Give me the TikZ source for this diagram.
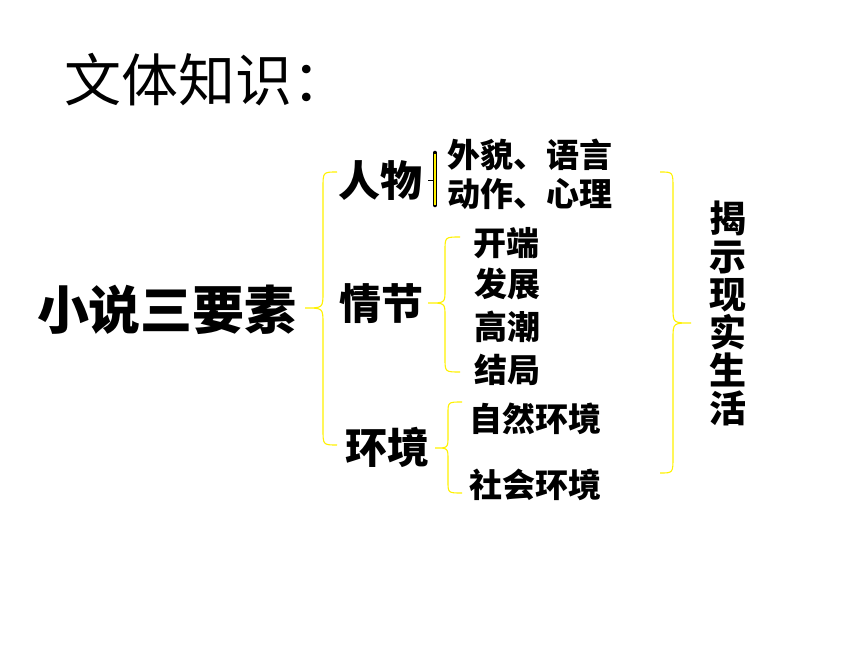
\documentclass[tikz,border=0pt]{standalone}
\usepackage{fontspec}
\newfontfamily\cjk{Noto Sans CJK SC}
\tikzset{
  lbl/.style={inner sep=0pt, anchor=center},
  big/.style={lbl, font=\cjk\bfseries\fontsize{52}{52}\selectfont},
  mid/.style={lbl, font=\cjk\bfseries\fontsize{42}{42}\selectfont},
  sml/.style={lbl, font=\cjk\bfseries\fontsize{33}{33}\selectfont},
  brc/.style={draw=yellow, line width=1.1pt},
}
\begin{document}
\begin{tikzpicture}[x=1pt,y=-1pt]
\path[fill=white] (0,0) rectangle (860,645);
\useasboundingbox (0,0) rectangle (860,645);
% title
\node[lbl, font=\cjk\fontsize{57}{57}\selectfont] (title) at (207,80) {文体知识：};
% main
\node[big] (main) at (167,310) {小说三要素};
\node[mid] (renwu) at (380,181) {人物};
\node[mid] (qingjie) at (381,304) {情节};
\node[mid] (huanjing) at (387,447) {环境};
% details
\node[sml] (waimao) at (530,155) {外貌、语言};
\node[sml] (dongzuo) at (530,194) {动作、心理};
\node[sml] (kaiduan) at (506,243) {开端};
\node[sml] (fazhan) at (507,284) {发展};
\node[sml] (gaochao) at (507,327) {高潮};
\node[sml] (jieju) at (507,370) {结局};
\node[sml] (ziran) at (535,419) {自然环境};
\node[sml] (shehui) at (535,485) {社会环境};
% vertical text
\node[lbl, font=\cjk\bfseries\fontsize{37}{38}\selectfont, align=center] (jieshi) at (728,313) {揭\\示\\现\\实\\生\\活};
% braces
\draw[brc] (337,172) .. controls (323,172) .. (323,188) -- (323,292) .. controls (323,308) .. (305,308) .. controls (323,308) .. (323,324) -- (323,429) .. controls (323,445) .. (337,445);
\draw[brc] (460,237) .. controls (445,237) .. (445,251) -- (445,290) .. controls (445,303) .. (428,303) .. controls (445,303) .. (445,316) -- (445,358) .. controls (445,372) .. (460,372);
\draw[brc] (462,402) .. controls (448,402) .. (448,414) -- (448,436) .. controls (448,448) .. (435,448) .. controls (448,448) .. (448,460) -- (448,481) .. controls (448,493) .. (462,493);
\draw[brc] (660,172) .. controls (673,172) .. (673,188) -- (673,307) .. controls (673,323) .. (691,323) .. controls (673,323) .. (673,339) -- (673,457) .. controls (673,473) .. (660,473);
% small brace for renwu
\draw[black, line width=4.6pt, line cap=round] (435,153) -- (435,205);
\draw[black, line width=0.8pt] (435,180) -- (428,180);
\draw[yellow, line width=2.8pt] (435,153.5) -- (435,204.5);
\end{tikzpicture}
\end{document}
